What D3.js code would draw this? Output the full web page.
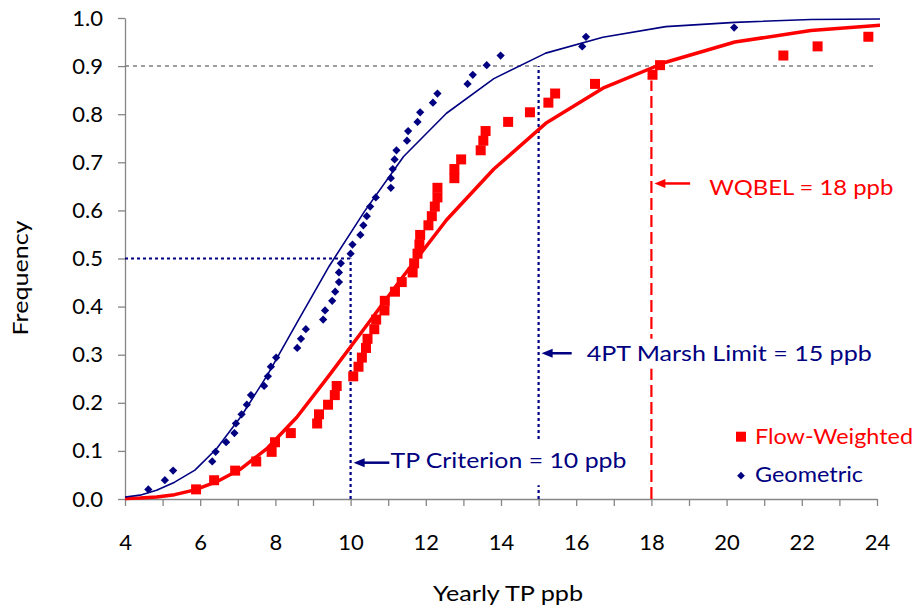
<!DOCTYPE html>
<html>
<head>
<meta charset="utf-8">
<script src="https://cdn.jsdelivr.net/npm/d3@7"></script>
<style>
  html, body { margin: 0; padding: 0; background: #ffffff; }
  svg { display: block; font-family: Lato, "Open Sans", sans-serif; }
</style>
</head>
<body>
<svg id="chart" width="915" height="609"></svg>
<script>
// Flow-weighted yearly TP (ppb), sorted, with plotting-position frequencies
const flowX = [5.89, 6.37, 6.93, 7.49, 7.90, 7.99, 8.41, 9.11, 9.16, 9.40,
               9.58, 9.63, 10.07, 10.21, 10.30, 10.41, 10.45, 10.63, 10.68, 10.90,
               10.91, 11.18, 11.36, 11.65, 11.69, 11.78, 11.83, 11.85, 12.07, 12.16,
               12.24, 12.31, 12.31, 12.76, 12.76, 12.94, 13.46, 13.53, 13.59, 14.19,
               14.77, 15.26, 15.44, 16.50, 18.03, 18.23, 21.51, 22.42, 23.77];
const flowFreq = [0.020, 0.039, 0.059, 0.078, 0.098, 0.118, 0.137, 0.157, 0.176, 0.196,
                  0.216, 0.235, 0.255, 0.275, 0.294, 0.314, 0.333, 0.353, 0.373, 0.392,
                  0.412, 0.431, 0.451, 0.471, 0.490, 0.510, 0.529, 0.549, 0.569, 0.588,
                  0.608, 0.627, 0.647, 0.667, 0.686, 0.706, 0.725, 0.745, 0.765, 0.784,
                  0.804, 0.824, 0.843, 0.863, 0.882, 0.902, 0.922, 0.941, 0.961];

// Geometric-mean yearly TP (ppb), sorted, with plotting-position frequencies
const geoX = [4.62, 5.06, 5.28, 6.32, 6.41, 6.69, 6.91, 6.95, 7.10, 7.24,
              7.35, 7.70, 7.80, 7.88, 8.02, 8.58, 8.68, 8.81, 9.27, 9.32,
              9.51, 9.59, 9.69, 9.69, 9.74, 10.00, 10.05, 10.26, 10.34, 10.43,
              10.52, 10.67, 11.07, 11.07, 11.12, 11.17, 11.22, 11.50, 11.53, 11.78,
              11.85, 12.19, 12.31, 13.11, 13.25, 13.62, 13.99, 16.16, 16.26, 20.20];
const geoFreq = [0.020, 0.039, 0.059, 0.078, 0.098, 0.118, 0.137, 0.157, 0.176, 0.196,
                 0.216, 0.235, 0.255, 0.275, 0.294, 0.314, 0.333, 0.353, 0.373, 0.392,
                 0.412, 0.431, 0.451, 0.471, 0.490, 0.510, 0.529, 0.549, 0.569, 0.588,
                 0.608, 0.627, 0.647, 0.667, 0.686, 0.706, 0.725, 0.745, 0.765, 0.784,
                 0.804, 0.824, 0.843, 0.863, 0.882, 0.902, 0.922, 0.941, 0.961, 0.980];

// Fitted cumulative curves
const curveX = [4.00, 4.40, 4.84, 5.32, 5.86, 6.44, 7.09, 7.79, 8.57, 9.43,
                10.37, 11.41, 12.55, 13.81, 15.19, 16.71, 18.38, 20.22, 22.24, 24.46];
const flowCurve = [0.001, 0.002, 0.004, 0.009, 0.019, 0.036, 0.063, 0.106, 0.170, 0.257,
                   0.355, 0.464, 0.580, 0.686, 0.781, 0.854, 0.908, 0.950, 0.974, 0.987];
const geoCurve = [0.004, 0.008, 0.018, 0.035, 0.060, 0.105, 0.172, 0.258, 0.366, 0.484,
                  0.598, 0.712, 0.802, 0.874, 0.927, 0.960, 0.982, 0.991, 0.997, 0.998];

const xTickValues = [4, 5, 6, 7, 8, 9, 10, 11, 12, 13, 14, 15, 16, 17, 18, 19, 20, 21, 22, 23, 24];
const yTickValues = [0, 0.1, 0.2, 0.3, 0.4, 0.5, 0.6, 0.7, 0.8, 0.9, 1.0];

// Limits (ppb) and frequency guides
const tpCriterion = 10;
const marshLimit = 15;
const wqbel = 18;
const medianFreq = 0.5;
const targetFreq = 0.9;

const RED = "#ff0000";
const NAVY = "#000080";
const AXIS = "#868686";

const svg = d3.select("#chart");
const x = d3.scaleLinear().domain([4, 24]).range([125, 877]);
const y = d3.scaleLinear().domain([0, 1]).range([499, 18]);

// clip for curves running past the axis end
svg.append("defs").append("clipPath").attr("id", "plot-clip")
  .append("rect").attr("x", x(4)).attr("y", 0)
  .attr("width", x(24) - x(4) + 3).attr("height", y(0) + 2);

// Axes
const yAxis = d3.axisLeft(y).tickValues(yTickValues)
  .tickFormat(d3.format(".1f")).tickSize(7).tickSizeOuter(0).tickPadding(15);
const xAxis = d3.axisBottom(x).tickValues(xTickValues)
  .tickFormat(d => d % 2 === 0 ? d : "").tickSize(7).tickSizeOuter(0).tickPadding(28);

const gy = svg.append("g").attr("transform", `translate(${x(4)},0)`).call(yAxis);
const gx = svg.append("g").attr("transform", `translate(0,${y(0)})`).call(xAxis);
[gy, gx].forEach(g => {
  g.select(".domain").attr("stroke", AXIS).attr("stroke-width", 1.3);
  g.selectAll(".tick line").attr("stroke", AXIS).attr("stroke-width", 1.3);
  g.selectAll(".tick text").attr("fill", "#000").style("font-size", "22px")
    .style("font-family", "Lato, 'Open Sans', sans-serif");
});
gx.selectAll(".tick text").attr("dy", "0.71em");

// Guide lines
const guides = svg.append("g");
guides.append("line")
  .attr("x1", x(4)).attr("x2", x(24)).attr("y1", y(targetFreq)).attr("y2", y(targetFreq))
  .attr("stroke", "#7f7f7f").attr("stroke-width", 1.5).attr("stroke-dasharray", "4,4");
guides.append("line")
  .attr("x1", x(4)).attr("x2", x(tpCriterion)).attr("y1", y(medianFreq)).attr("y2", y(medianFreq))
  .attr("stroke", NAVY).attr("stroke-width", 2.2).attr("stroke-dasharray", "3,3");
guides.append("line")
  .attr("x1", x(tpCriterion)).attr("x2", x(tpCriterion)).attr("y1", y(0)).attr("y2", y(medianFreq))
  .attr("stroke", NAVY).attr("stroke-width", 2.2).attr("stroke-dasharray", "3,3");
guides.append("line")
  .attr("x1", x(marshLimit)).attr("x2", x(marshLimit)).attr("y1", y(0)).attr("y2", y(targetFreq))
  .attr("stroke", NAVY).attr("stroke-width", 2.2).attr("stroke-dasharray", "3,3");
guides.append("line")
  .attr("x1", x(wqbel)).attr("x2", x(wqbel)).attr("y1", y(0)).attr("y2", y(0.87))
  .attr("stroke", RED).attr("stroke-width", 2.2).attr("stroke-dasharray", "12,5");

// Fitted curves
const line = d3.line().x(d => x(d[0])).y(d => y(d[1]));
const curves = svg.append("g").attr("clip-path", "url(#plot-clip)");
curves.append("path").datum(d3.zip(curveX, flowCurve))
  .attr("d", line).attr("fill", "none").attr("stroke", RED).attr("stroke-width", 3.5)
  .attr("stroke-linejoin", "round");
curves.append("path").datum(d3.zip(curveX, geoCurve))
  .attr("d", line).attr("fill", "none").attr("stroke", NAVY).attr("stroke-width", 1.6)
  .attr("stroke-linejoin", "round");

// Markers
const squarePath = d3.symbol(d3.symbolSquare, 100)();
const diamondPath = d3.symbol(d3.symbolSquare, 34)();

svg.append("g").selectAll("path").data(d3.zip(flowX, flowFreq)).join("path")
  .attr("d", squarePath).attr("fill", RED)
  .attr("transform", d => `translate(${x(d[0])},${y(d[1])})`);
svg.append("g").selectAll("path").data(d3.zip(geoX, geoFreq)).join("path")
  .attr("d", diamondPath).attr("fill", NAVY)
  .attr("transform", d => `translate(${x(d[0])},${y(d[1])}) rotate(45)`);

// Annotations with arrows, each on a white text box
const notes = [
  { text: "WQBEL = 18 ppb", color: RED, limit: wqbel, arrowY: 0.656, tailX: 19.03,
    textX: 19.54, baseY: 0.632, len: 184, boxTop: 24, boxBottom: 10 },
  { text: "4PT Marsh Limit = 15 ppb", color: NAVY, limit: marshLimit, arrowY: 0.303, tailX: 15.88,
    textX: 16.28, baseY: 0.2875, len: 285, boxTop: 22, boxBottom: 8 },
  { text: "TP Criterion = 10 ppb", color: NAVY, limit: tpCriterion, arrowY: 0.0755, tailX: 11.03,
    textX: 11.06, baseY: 0.064, len: 236, boxTop: 27, boxBottom: 17 }
];
const ng = svg.append("g");
notes.forEach(n => {
  const tip = x(n.limit) + 3, ay = y(n.arrowY), tail = x(n.tailX);
  const tx = x(n.textX), ty = y(n.baseY);
  ng.append("rect").attr("x", tail).attr("y", ty - n.boxTop)
    .attr("width", tx + n.len + 4 - tail).attr("height", n.boxTop + n.boxBottom)
    .attr("fill", "#ffffff");
  ng.append("line").attr("x1", tip + 8).attr("x2", tail).attr("y1", ay).attr("y2", ay)
    .attr("stroke", n.color).attr("stroke-width", 2.5);
  ng.append("path").attr("d", `M${tip},${ay}L${tip + 11},${ay - 4.5}L${tip + 11},${ay + 4.5}Z`)
    .attr("fill", n.color);
  ng.append("text").attr("x", tx).attr("y", ty)
    .attr("fill", n.color).style("font-size", "22px")
    .attr("textLength", n.len).attr("lengthAdjust", "spacingAndGlyphs").text(n.text);
});

// Legend
const legend = [
  { name: "Flow-Weighted", color: RED, path: squarePath, rot: 0, cy: 436.7, base: 443.5, len: 158 },
  { name: "Geometric", color: NAVY, path: d3.symbol(d3.symbolSquare, 30)(), rot: 45, cy: 475.7, base: 482, len: 108 }
];
const lg = svg.append("g");
legend.forEach(l => {
  lg.append("path").attr("d", l.path).attr("fill", l.color)
    .attr("transform", `translate(741,${l.cy}) rotate(${l.rot})`);
  lg.append("text").attr("x", 755).attr("y", l.base).attr("fill", l.color)
    .style("font-size", "22px").attr("textLength", l.len).attr("lengthAdjust", "spacingAndGlyphs")
    .text(l.name);
});

// Axis titles
svg.append("text").attr("transform", "translate(28,278) rotate(-90)")
  .attr("text-anchor", "middle").attr("fill", "#000").style("font-size", "22px")
  .attr("textLength", 115).attr("lengthAdjust", "spacingAndGlyphs")
  .text("Frequency");
svg.append("text").attr("x", 433).attr("y", 601)
  .attr("fill", "#000").style("font-size", "22px")
  .attr("textLength", 150).attr("lengthAdjust", "spacingAndGlyphs")
  .text("Yearly TP ppb");
</script>
</body>
</html>
